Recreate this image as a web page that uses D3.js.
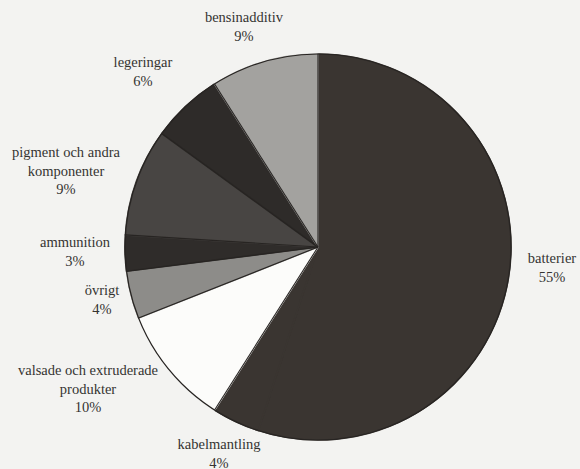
<!DOCTYPE html>
<html>
<head>
<meta charset="utf-8">
<script src="https://cdn.jsdelivr.net/npm/d3@7"></script>
<style>
  html, body { margin: 0; padding: 0; background: #f3f3f1; }
  svg { display: block; }
</style>
</head>
<body>
<svg id="chart" width="580" height="469"></svg>
<script>
// Data (clockwise from 12 o'clock)
const categories = ["batterier", "kabelmantling", "valsade och extruderade produkter", "övrigt", "ammunition", "pigment och andra komponenter", "legeringar", "bensinadditiv"];
const labelLines = [["batterier"], ["kabelmantling"], ["valsade och extruderade", "produkter"], ["övrigt"], ["ammunition"], ["pigment och andra", "komponenter"], ["legeringar"], ["bensinadditiv"]];
const values = [55, 4, 10, 4, 3, 9, 6, 9];

// Styles / layout
const colors = ["#3a3531", "#3a3531", "#fcfcfa", "#8d8c89", "#2f2c2a", "#484543", "#2e2b29", "#a3a29f"];
const labelAnchor = [[552, 258], [219, 444], [88, 370], [102, 290], [75, 242], [66, 152], [143, 62], [244, 17]];
const lineHeight = 18.5;

const svg = d3.select("#chart");
const cx = 318, cy = 247, r = 193;

const pie = d3.pie().sort(null).value(d => d.value).startAngle(0).endAngle(2 * Math.PI);
const data = categories.map((c, i) => ({ name: c, value: values[i], i }));
const arcs = pie(data);
const arc = d3.arc().innerRadius(0).outerRadius(r);

const g = svg.append("g").attr("transform", `translate(${cx},${cy})`);
g.selectAll("path.slice").data(arcs).enter().append("path")
  .attr("class", "slice")
  .attr("d", arc)
  .attr("fill", d => colors[d.data.i])
  .attr("stroke", d => colors[d.data.i])
  .attr("stroke-width", 1.6)
  .attr("stroke-linejoin", "round");

// boundaries between differently coloured slices
arcs.forEach((d, k) => {
  const prev = arcs[(k - 1 + arcs.length) % arcs.length];
  if (colors[prev.data.i] === colors[d.data.i]) return;
  const a = d.startAngle;
  g.append("line")
    .attr("x1", 0).attr("y1", 0)
    .attr("x2", r * Math.sin(a)).attr("y2", -r * Math.cos(a))
    .attr("stroke", "#272422").attr("stroke-width", 1.1);
});
g.append("circle").attr("r", r).attr("fill", "none")
  .attr("stroke", "#272422").attr("stroke-width", 1.2);

const total = d3.sum(values);
const lab = svg.append("g")
  .attr("font-family", "'Liberation Serif', 'DejaVu Serif', serif")
  .attr("font-size", 14.5)
  .attr("fill", "#353331")
  .attr("text-anchor", "middle");

arcs.forEach(d => {
  const i = d.data.i;
  const lines = labelLines[i].concat([Math.round(values[i] / total * 100) + "%"]);
  const t = lab.append("text")
    .attr("x", labelAnchor[i][0])
    .attr("y", labelAnchor[i][1])
    .attr("dominant-baseline", "central");
  lines.forEach((ln, k) => {
    t.append("tspan")
      .attr("x", labelAnchor[i][0])
      .attr("y", labelAnchor[i][1] + k * lineHeight)
      .text(ln);
  });
});
</script>
</body>
</html>
